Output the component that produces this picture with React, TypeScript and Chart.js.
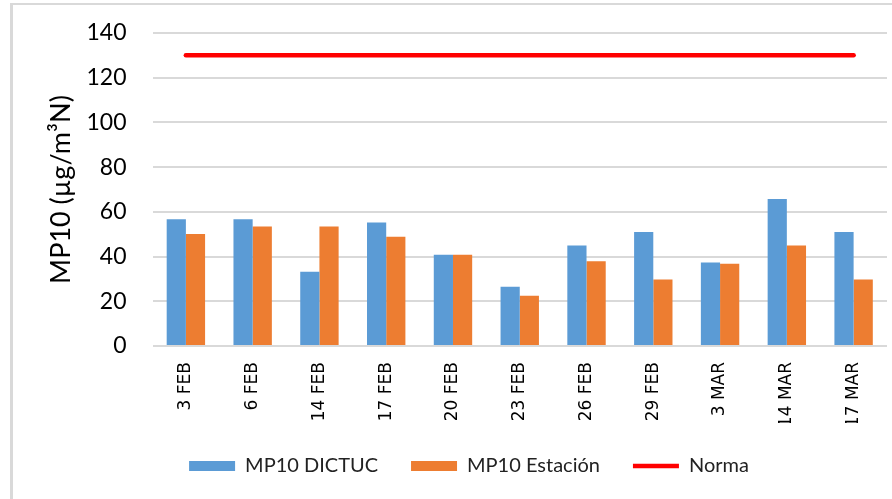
import React, { useEffect, useRef } from "react";
import { Chart, registerables } from "chart.js";

Chart.register(...registerables);

const categories = ["3 FEB", "6 FEB", "14 FEB", "17 FEB", "20 FEB", "23 FEB", "26 FEB", "29 FEB", "3 MAR", "14 MAR", "17 MAR"];
const mp10Dictuc = [56.7, 56.7, 33.2, 55.2, 40.8, 26.5, 44.9, 51.0, 37.4, 65.7, 51.0];
const mp10Estacion = [50.1, 53.5, 53.5, 48.9, 40.8, 22.5, 37.9, 29.8, 36.8, 44.9, 29.8];
const norma = [130, 130, 130, 130, 130, 130, 130, 130, 130, 130, 130];
const yTitle = "MP10 (µg/m³N)";

const CANVAS_W = 912;
const CANVAS_H = 494;

export default function App() {
  const ref = useRef<HTMLCanvasElement | null>(null);

  useEffect(() => {
    const canvas = ref.current;
    if (!canvas) return;
    const chart = new Chart(canvas, {
      type: "bar",
      data: {
        labels: categories,
        datasets: [
          {
            type: "bar",
            label: "MP10 DICTUC",
            data: mp10Dictuc,
            backgroundColor: "#5B9BD5",
            borderWidth: 0,
            categoryPercentage: 0.575,
            barPercentage: 1,
            pointStyle: "rect",
          },
          {
            type: "bar",
            label: "MP10 Estación",
            data: mp10Estacion,
            backgroundColor: "#ED7D31",
            borderWidth: 0,
            categoryPercentage: 0.575,
            barPercentage: 1,
            pointStyle: "rect",
          },
          {
            type: "line",
            label: "Norma",
            data: norma,
            borderColor: "#FF0000",
            backgroundColor: "#FF0000",
            borderWidth: 4.5,
            borderCapStyle: "round",
            pointRadius: 0,
            pointHoverRadius: 0,
            pointStyle: "line",
            fill: false,
          },
        ] as any,
      },
      options: {
        responsive: false,
        animation: false,
        layout: { padding: { left: 0, right: 0, top: 28, bottom: 13 } },
        scales: {
          x: {
            grid: { display: false, drawTicks: false },
            border: { display: false },
            ticks: {
              minRotation: 90,
              maxRotation: 90,
              padding: 16,
              color: "#000",
              font: { family: "'DejaVu Sans'", size: 17 },
              autoSkip: false,
            },
            afterFit: (s: any) => {
              s.height = 77;
            },
          },
          y: {
            min: 0,
            max: 140,
            ticks: {
              stepSize: 20,
              padding: 26,
              color: "#000",
              font: { family: "Lato", size: 23 },
            },
            grid: { color: "#d9d9d9", lineWidth: 2, drawTicks: false },
            border: { display: false },
            title: {
              display: true,
              text: yTitle,
              color: "#000",
              font: { family: "Lato", size: 27 },
              padding: { top: 32, bottom: 0 },
            },
            afterFit: (s: any) => {
              s.width = 139.5;
              s.paddingTop = 0;
              s.paddingBottom = 0;
            },
          },
          yRight: {
            type: "linear",
            position: "right",
            display: true,
            grid: { display: false, drawTicks: false },
            border: { display: false },
            ticks: { display: false },
            afterFit: (s: any) => {
              s.width = 38;
              s.paddingTop = 0;
              s.paddingBottom = 0;
            },
          },
        } as any,
        plugins: {
          legend: {
            display: true,
            position: "bottom",
            labels: {
              usePointStyle: true,
              pointStyleWidth: 46,
              boxHeight: 10,
              padding: 33,
              color: "#222",
              font: { family: "Lato", size: 20 },
              sort: (a: any, b: any) => a.datasetIndex - b.datasetIndex,
            },
          },
          tooltip: { enabled: false },
        },
      },
    });
    return () => chart.destroy();
  }, []);

  return (
    <div
      style={{
        position: "absolute",
        left: 0,
        top: 0,
        width: 892,
        height: 499,
        overflow: "hidden",
        background: "#fff",
      }}
    >
      <div
        style={{
          position: "absolute",
          left: 10,
          top: 3,
          width: CANVAS_W,
          height: CANVAS_H,
          borderTop: "2px solid #d9d9d9",
          borderLeft: "3px solid #d9d9d9",
        }}
      >
        <canvas ref={ref} width={CANVAS_W} height={CANVAS_H} style={{ display: "block" }} />
      </div>
    </div>
  );
}
